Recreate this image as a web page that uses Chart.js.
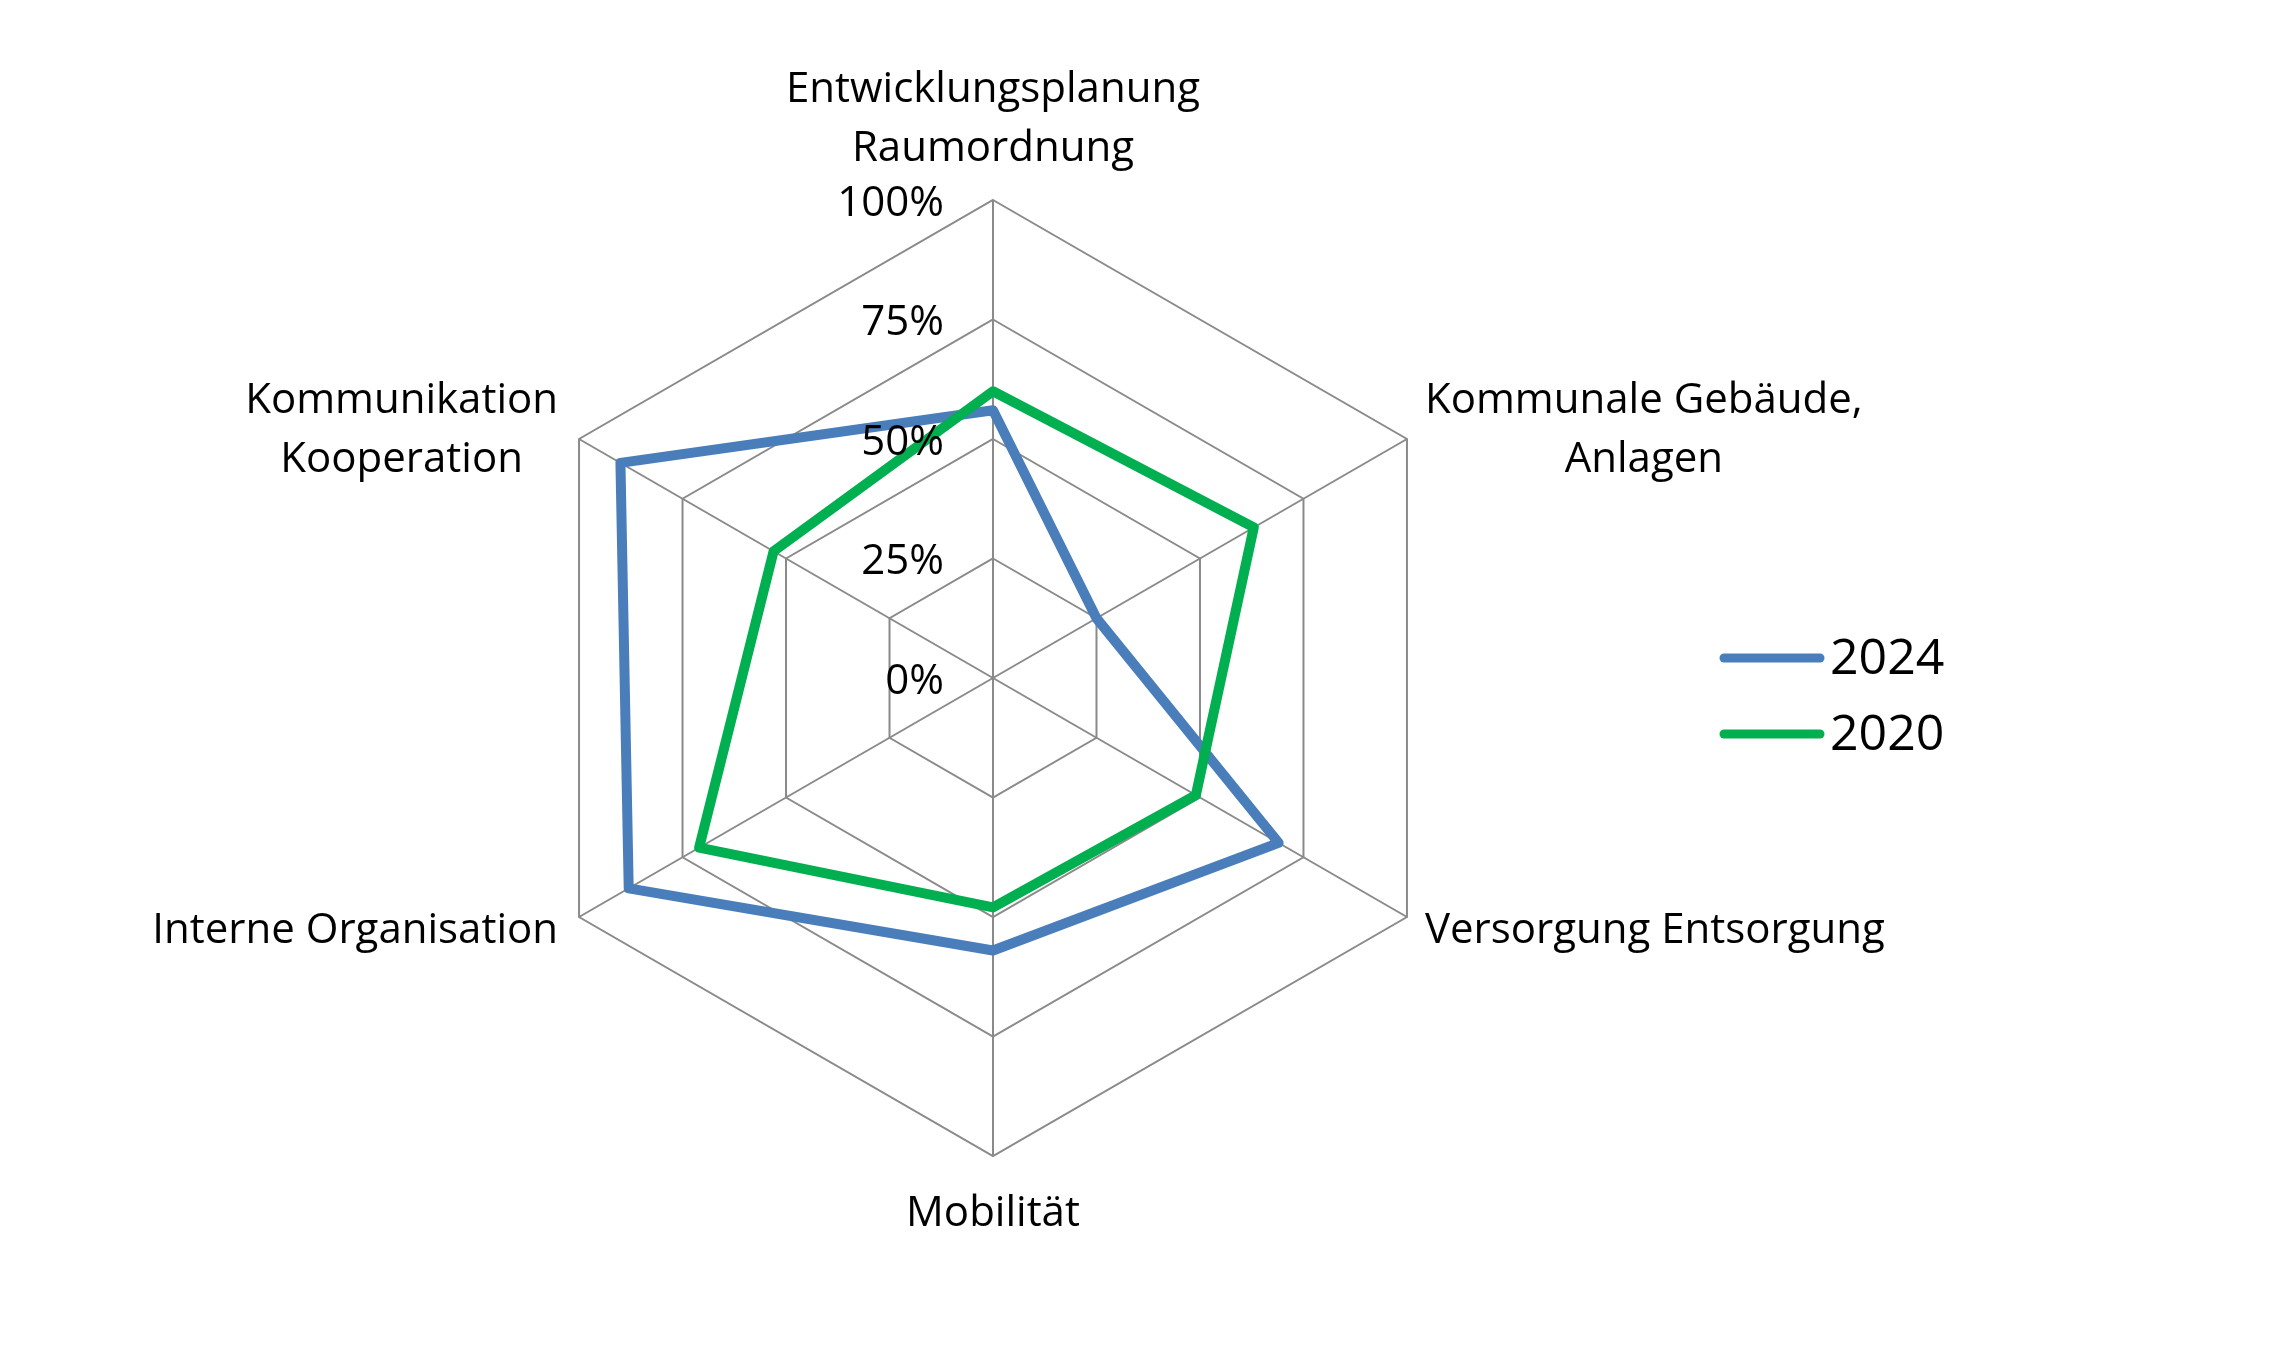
<!DOCTYPE html>
<html>
<head>
<meta charset="utf-8">
<script src="https://cdn.jsdelivr.net/npm/chart.js@4.4.1/dist/chart.umd.min.js"></script>
<style>body{margin:0;background:#fff}</style>
</head>
<body>
<canvas id="myChart" width="2280" height="1359"></canvas>
<script>
// categories (multi-line labels as arrays)
const categories = [
    ['Entwicklungsplanung', 'Raumordnung'],
    ['Kommunale Gebäude,', 'Anlagen'],
    ['Versorgung Entsorgung'],
    ['Mobilität'],
    ['Interne Organisation'],
    ['Kommunikation', 'Kooperation']
];
const values2024 = [56, 25, 69, 57, 88, 90];
const values2020 = [60, 63, 49, 48, 71, 53];
const tickValues = [0, 25, 50, 75, 100];
const seriesNames = ['2024', '2020'];

const blue = '#4a7ebb';
const green = '#00b050';
const gridGray = '#8a8a8a';
const fontFamily = '"Open Sans", sans-serif';

// draws tick labels, category labels and legend like the excel original
const labelPlugin = {
    id: 'labelPlugin',
    afterDatasetsDraw(chart) {
        const ctx = chart.ctx;
        const r = chart.scales.r;
        ctx.save();
        ctx.fillStyle = '#000';
        ctx.font = '42px ' + fontFamily;
        ctx.textBaseline = 'middle';

        // ticks left of the vertical axis
        ctx.textAlign = 'right';
        tickValues.forEach(v => {
            const p = r.getPointPositionForValue(0, v);
            ctx.fillText(v + '%', p.x - 49, p.y + 4);
        });

        // category labels
        ctx.textAlign = 'center';
        const lh = 59;
        categories.forEach((lines, i) => {
            const p = r.getPointPosition(i, r.drawingArea);
            const dx = p.x - r.xCenter, dy = p.y - r.yCenter;
            const w = Math.max(...lines.map(t => ctx.measureText(t).width));
            const n = lines.length;
            let cx, cy;
            if (Math.abs(dx) < 1) {
                cx = p.x;
                cy = dy < 0 ? p.y - 51 - (n - 1) * lh / 2 : p.y + 58 + (n - 1) * lh / 2;
            } else {
                cx = dx > 0 ? p.x + 18 + w / 2 : p.x - 21 - w / 2;
                cy = p.y + (dy < 0 ? -8 : 14);
            }
            lines.forEach((t, k) => {
                ctx.fillText(t, cx, cy + (k - (n - 1) / 2) * lh);
            });
        });

        // legend
        const legendColors = [blue, green];
        ctx.font = '50px ' + fontFamily;
        ctx.textAlign = 'left';
        seriesNames.forEach((name, k) => {
            const y = 658 + k * 76;
            ctx.strokeStyle = legendColors[k];
            ctx.lineWidth = 9;
            ctx.lineCap = 'round';
            ctx.beginPath();
            ctx.moveTo(1724, y);
            ctx.lineTo(1820, y);
            ctx.stroke();
            ctx.fillText(name, 1830, y + 2);
        });
        ctx.restore();
    }
};

let myChart = document.getElementById('myChart').getContext('2d');

let radarChart = new Chart(myChart, {
    type: 'radar',
    data: {
        labels: categories,
        datasets: [{
            label: seriesNames[0],
            data: values2024,
            fill: false,
            borderColor: blue,
            borderWidth: 10,
            borderJoinStyle: 'round',
            pointRadius: 0,
            order: 1
        }, {
            label: seriesNames[1],
            data: values2020,
            fill: false,
            borderColor: green,
            borderWidth: 10,
            borderJoinStyle: 'round',
            pointRadius: 0,
            order: 0
        }]
    },
    options: {
        responsive: false,
        animation: false,
        layout: {
            padding: { left: 515, right: 809, top: 200, bottom: 203 }
        },
        plugins: {
            legend: { display: false },
            tooltip: { enabled: false }
        },
        scales: {
            r: {
                min: 0,
                max: 100,
                ticks: { stepSize: 25, display: false },
                grid: { color: gridGray, lineWidth: 2 },
                angleLines: { color: gridGray, lineWidth: 2 },
                pointLabels: { display: false }
            }
        }
    },
    plugins: [labelPlugin]
});
</script>
</body>
</html>
